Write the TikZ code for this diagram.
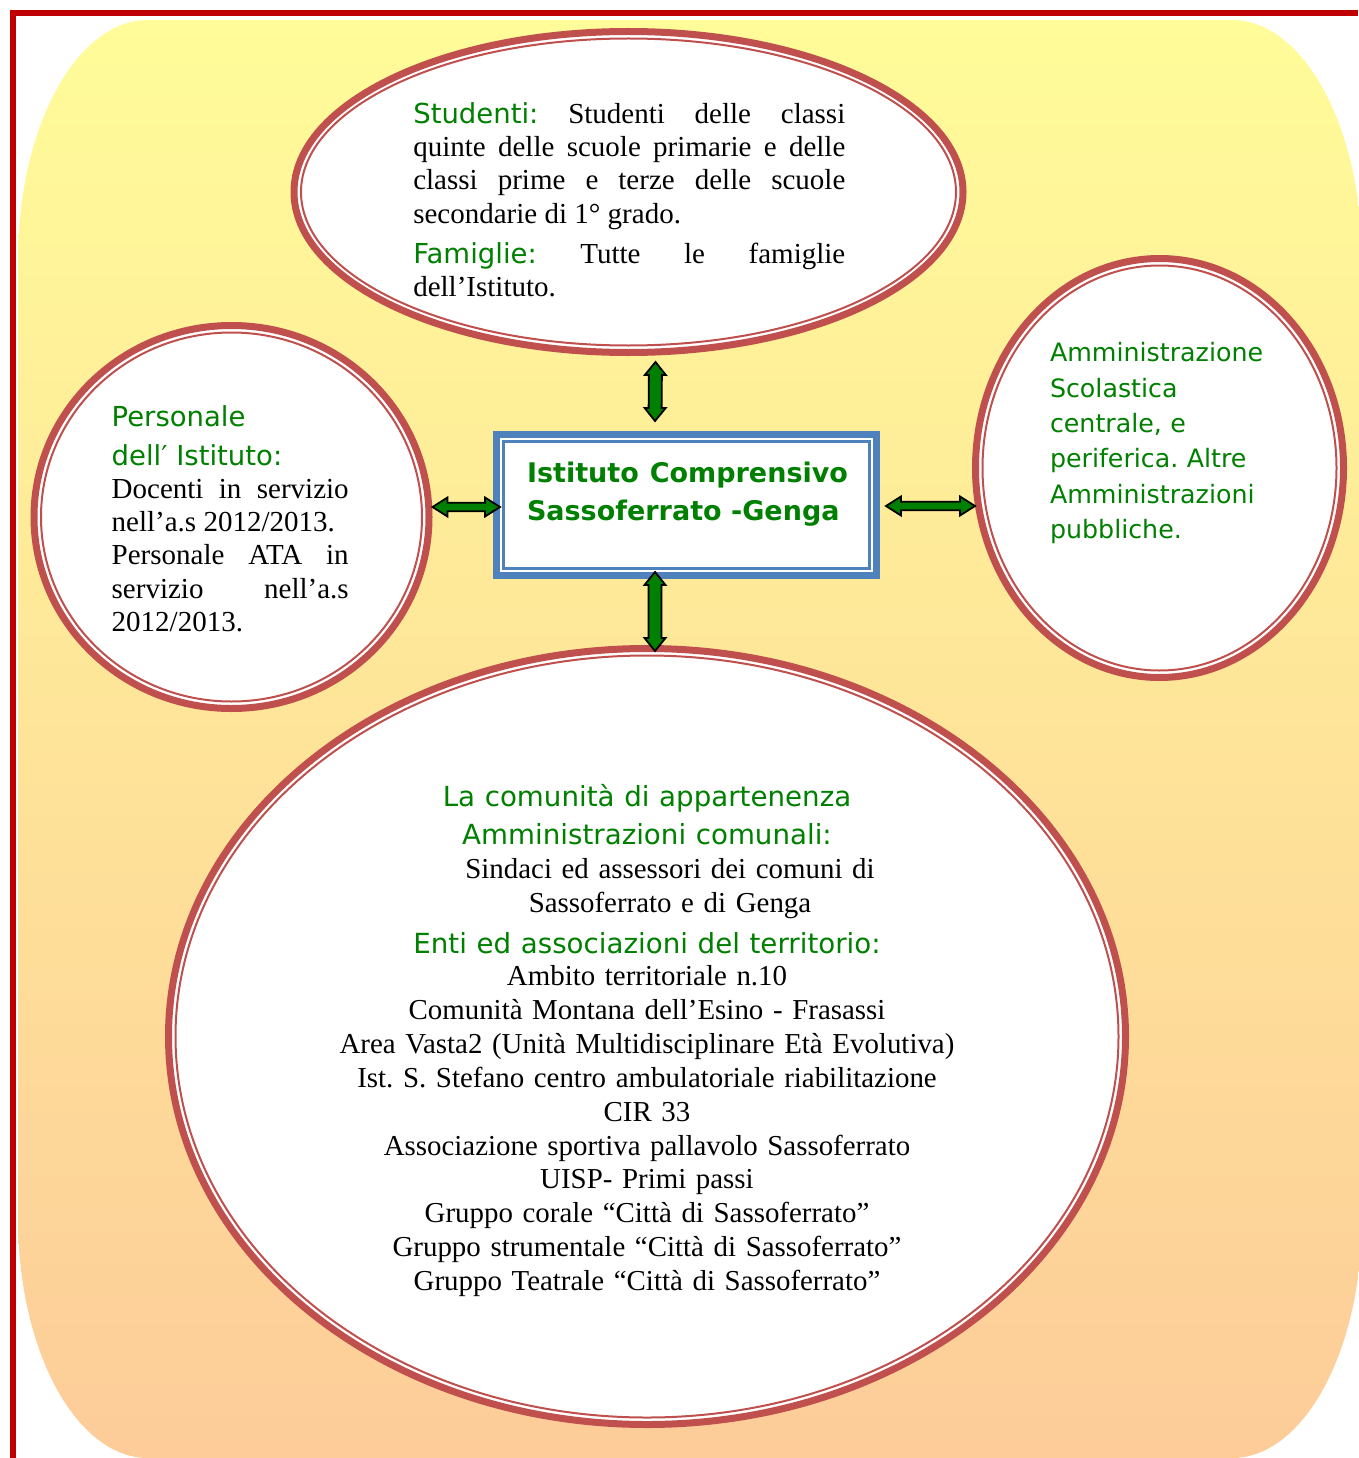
\documentclass[tikz,border=0pt]{standalone}
\usepackage{fontspec}
\setmainfont{Liberation Serif}
\newfontfamily\versana{DejaVu Sans}
\usepackage{xcolor}
\usetikzlibrary{calc, positioning, shapes.geometric}

\definecolor{ringred}{RGB}{192,80,77}
\definecolor{boxblue}{RGB}{79,129,189}
\definecolor{framered}{RGB}{192,0,0}
\definecolor{txtgreen}{RGB}{0,128,0}
\definecolor{arrgreen}{RGB}{0,128,0}
\definecolor{bgtop}{RGB}{255,252,153}
\definecolor{bgbot}{RGB}{253,204,153}

\newcommand{\gr}[2][27.5pt]{{\color{txtgreen}\versana\fontsize{#1}{\baselineskip}\selectfont #2}}

\tikzset{
  ring/.style={ellipse, draw=ringred, line width=7pt, fill=white, inner sep=0pt, outer sep=0pt},
  ringin/.style={draw=ringred, line width=2pt},
  txt/.style={inner sep=0pt, outer sep=0pt},
  dblarrow/.style n args={3}{draw=black, line width=1.8pt, fill=arrgreen, line join=miter,
    to path={
      -- ($(\tikztostart)!#3!(\tikztotarget)!#1!90:(\tikztotarget)$)
      -- ($(\tikztostart)!#3!(\tikztotarget)!#2!90:(\tikztotarget)$)
      -- ($(\tikztotarget)!#3!(\tikztostart)!#2!-90:(\tikztostart)$)
      -- ($(\tikztotarget)!#3!(\tikztostart)!#1!-90:(\tikztostart)$)
      -- (\tikztotarget)
      -- ($(\tikztotarget)!#3!(\tikztostart)!#1!90:(\tikztostart)$)
      -- ($(\tikztotarget)!#3!(\tikztostart)!#2!90:(\tikztostart)$)
      -- ($(\tikztostart)!#3!(\tikztotarget)!#2!-90:(\tikztotarget)$)
      -- ($(\tikztostart)!#3!(\tikztotarget)!#1!-90:(\tikztotarget)$)
      -- cycle}}
}

\begin{document}
\frenchspacing
\begin{tikzpicture}[x=1pt, y=-1pt]
  \useasboundingbox (0,0) rectangle (1358,1458);

  % background and frame
  \shade[top color=bgtop, bottom color=bgbot]
    (148,20) -- (1232,20) arc[start angle=-90, end angle=0, x radius=130, y radius=240]
    -- (1362,1218) arc[start angle=0, end angle=90, x radius=130, y radius=240]
    -- (148,1458) arc[start angle=90, end angle=180, x radius=130, y radius=240]
    -- (18,260) arc[start angle=180, end angle=270, x radius=130, y radius=240] -- cycle;
  \draw[framered, line width=6pt] (13,1458) -- (13,13) -- (1358,13);

  % rings
  \node[ring, minimum width=669pt, minimum height=321pt] (top) at (628.5,192) {};
  \node[ring, minimum width=395pt, minimum height=383pt] (pers) at (231.5,517) {};
  \node[ring, minimum width=368pt, minimum height=419pt] (amm) at (1159.5,468) {};
  \node[ring, minimum width=957pt, minimum height=776pt] (com) at (647,1036.5) {};
  \draw[ringin] (top.center) ellipse [x radius=327.5, y radius=153.5];
  \draw[ringin] (pers.center) ellipse [x radius=190.5, y radius=184.5];
  \draw[ringin] (amm.center) ellipse [x radius=177, y radius=202.5];
  \draw[ringin] (com.center) ellipse [x radius=471.5, y radius=381];

  % central box
  \node[draw=boxblue, line width=7pt, fill=white, minimum width=380pt, minimum height=141pt,
        inner sep=0pt, outer sep=0pt] (box) at (686.5,505) {};
  \draw[boxblue, line width=2.5pt] ([shift={(7,7)}]box.north west) rectangle ([shift={(-7,-7)}]box.south east);

  % arrows
  \coordinate (a1) at ([shift={(27,9.5)}]top.south);
  \coordinate (a2) at ([shift={(-31.5,-13.5)}]box.north);
  \coordinate (b1) at ([shift={(-31.5,-3.5)}]box.south);
  \coordinate (b2) at ([shift={(8,2.5)}]com.north);
  \coordinate (c1) at ([shift={(3.5,-10)}]pers.east);
  \coordinate (c2) at ([shift={(3.5,2)}]box.west);
  \coordinate (d1) at ([shift={(9.5,1)}]box.east);
  \coordinate (d2) at ([shift={(-0.5,38)}]amm.west);
  \draw[dblarrow={10.5pt}{6.5pt}{13pt}] (a1) to (a2);
  \draw[dblarrow={10.5pt}{6.5pt}{13pt}] (b1) to (b2);
  \draw[dblarrow={9.5pt}{4.2pt}{15pt}] (c1) to (c2);
  \draw[dblarrow={9.5pt}{4.2pt}{15pt}] (d1) to (d2);

  % texts
  \node[txt, text width=432pt, align=justify, anchor=base west,
        font=\fontsize{29pt}{33.3pt}\selectfont] (studtxt) at (413.3,123.3)
    {\gr{Studenti:} Studenti delle classi\linebreak
     quinte delle scuole primarie e delle\linebreak
     classi prime e terze delle scuole\linebreak
     secondarie di 1° grado.\\[7pt]
     \gr{Famiglie:} Tutte le famiglie\linebreak
     dell’Istituto.};

  \node[txt, text width=237pt, align=justify, anchor=base west,
        font=\fontsize{29pt}{33.3pt}\selectfont] (perstxt) at (111.7,426.7)
    {\gr{Personale}\\[5pt]
     \gr{dell′ Istituto:}\\
     Docenti in servizio\linebreak
     nell’a.s 2012/2013.\\
     Personale ATA in\linebreak
     servizio nell’a.s\linebreak
     2012/2013.};

  \node[txt, text width=290pt, align=left, anchor=base west, text=txtgreen,
        font=\versana\fontsize{25.3pt}{35.4pt}\selectfont] (ammtxt) at (1050,361.7)
    {Amministrazione\\
     Scolastica\\
     centrale, e\\
     periferica. Altre\\
     Amministrazioni\\
     pubbliche.};

  \node[txt, text width=321pt, align=justify, anchor=base west, text=txtgreen,
        font=\versana\bfseries\fontsize{27pt}{38pt}\selectfont] (boxtxt) at (527,482.7)
    {Istituto Comprensivo\linebreak Sassoferrato -Genga};

  \node[txt, text width=760pt, align=center, anchor=base,
        font=\fontsize{28.9pt}{33.9pt}\selectfont] (comtxt) at (647,806)
    {\gr[27.7pt]{La comunità di appartenenza}\\[4.1pt]
     \gr[27.7pt]{Amministrazioni comunali:}\\[0.4pt]
     \hspace*{46pt}Sindaci ed assessori dei comuni di\\[0.5pt]
     \hspace*{46pt}Sassoferrato e di Genga\\[6.7pt]
     \gr[27.7pt]{Enti ed associazioni del territorio:}\\[-1.7pt]
     Ambito territoriale n.10\\
     Comunità Montana dell’Esino - Frasassi\\
     Area Vasta2 (Unità Multidisciplinare Età Evolutiva)\\
     Ist. S. Stefano centro ambulatoriale riabilitazione\\
     CIR 33\\
     Associazione sportiva pallavolo Sassoferrato\\
     UISP- Primi passi\\
     Gruppo corale “Città di Sassoferrato”\\
     Gruppo strumentale “Città di Sassoferrato”\\
     Gruppo Teatrale “Città di Sassoferrato”};
\end{tikzpicture}
\end{document}
